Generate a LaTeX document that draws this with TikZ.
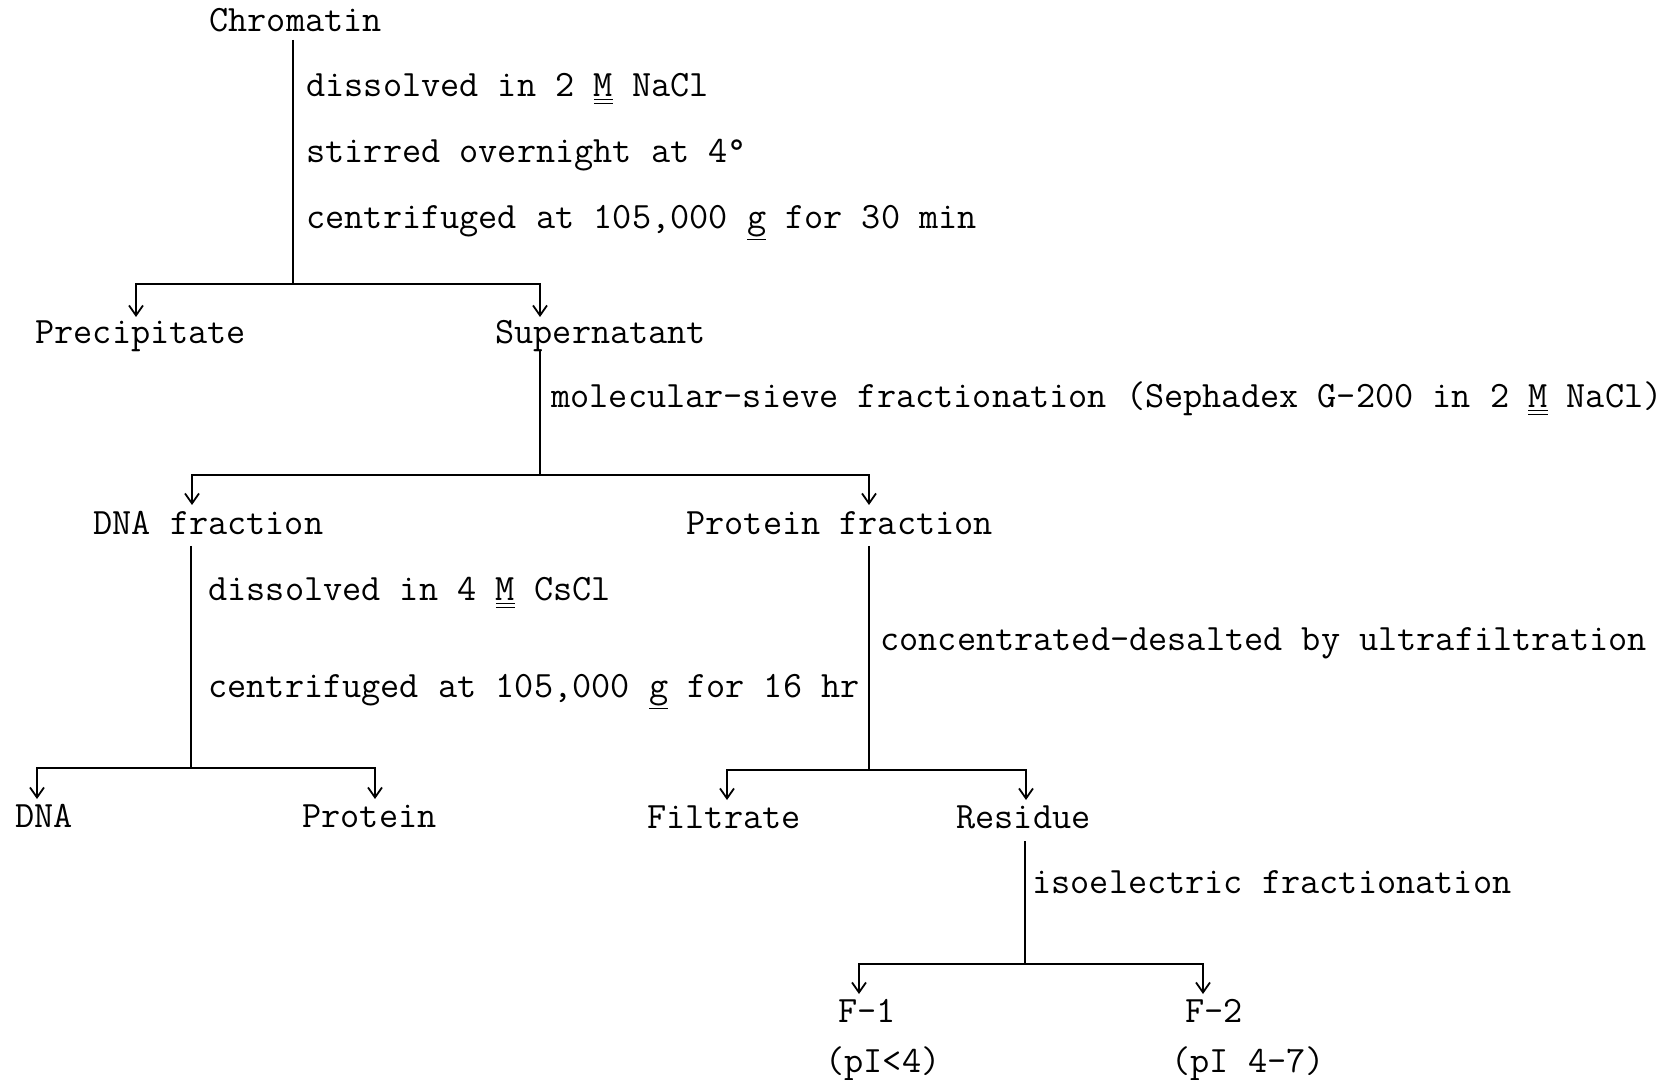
\documentclass[tikz,border=0pt]{standalone}
\usepackage{fontspec}
\usetikzlibrary{arrows.meta}
\newcommand{\dblM}{\underline{\underline{M}}}
\newcommand{\ulg}{\underline{g}}
\begin{document}
\begin{tikzpicture}[x=0.5pt,y=-0.5pt,
  lbl/.style={anchor=west, inner sep=0pt, font=\ttfamily\fontsize{18.6}{21}\selectfont, text height=0.62em, text depth=0.2em},
  ln/.style={line width=0.9pt},
  arr/.style={ln, -{Straight Barb[length=5pt,width=7pt]}}]
\useasboundingbox (0,0) rectangle (1672,1080);
% texts
\node[lbl] (chrom) at (209,27) {Chromatin};
\node[lbl] (s1a) at (306,92) {dissolved in 2 \dblM{} NaCl};
\node[lbl] (s1b) at (306,158) {stirred overnight at 4\textdegree};
\node[lbl] (s1c) at (306,224) {centrifuged at 105,000 \ulg{} for 30 min};
\node[lbl] (prec) at (35,339) {Precipitate};
\node[lbl] (super) at (495,339) {Supernatant};
\node[lbl] (s2) at (551,403) {molecular-sieve fractionation (Sephadex G-200 in 2 \dblM{} NaCl)};
\node[lbl] (dnaf) at (93,530) {DNA fraction};
\node[lbl] (protf) at (686,530) {Protein fraction};
\node[lbl] (s3a) at (208,596) {dissolved in 4 \dblM{} CsCl};
\node[lbl] (s3b) at (208,693) {centrifuged at 105,000 \ulg{} for 16 hr};
\node[lbl] (s4) at (880,646) {concentrated-desalted by ultrafiltration};
\node[lbl] (dna) at (15,823) {DNA};
\node[lbl] (prot) at (302,823) {Protein};
\node[lbl] (filt) at (647,824) {Filtrate};
\node[lbl] (resid) at (956,824) {Residue};
\node[lbl] (s5) at (1032,889) {isoelectric fractionation};
\node[lbl] (f1) at (838,1018) {F-1};
\node[lbl] (f2) at (1185,1018) {F-2};
\node[lbl] (pi1) at (825,1068) {(pI<4)};
\node[lbl] (pi2) at (1171,1068) {(pI 4-7)};
% coordinates
\coordinate (c1t) at (293,40);
\coordinate (c1b) at (293,284);
\coordinate (c1l) at (136,284);
\coordinate (c1r) at (540,284);
\coordinate (tprec) at (136,317);
\coordinate (tsup) at (540,317);
\coordinate (c2t) at (540,350);
\coordinate (c2b) at (540,475);
\coordinate (c2l) at (192,475);
\coordinate (c2r) at (869,475);
\coordinate (tdnaf) at (192,505);
\coordinate (tprotf) at (869,505);
\coordinate (c3t) at (191,546);
\coordinate (c3b) at (191,768);
\coordinate (c3l) at (37,768);
\coordinate (c3r) at (375,768);
\coordinate (tdna) at (37,799);
\coordinate (tprot) at (375,799);
\coordinate (c4t) at (869,546);
\coordinate (c4b) at (869,770);
\coordinate (c4l) at (727,770);
\coordinate (c4r) at (1026,770);
\coordinate (tfilt) at (727,800);
\coordinate (tres) at (1026,800);
\coordinate (c5t) at (1025,841);
\coordinate (c5b) at (1025,964);
\coordinate (c5l) at (859,964);
\coordinate (c5r) at (1203,964);
\coordinate (tf1) at (859,994);
\coordinate (tf2) at (1203,994);
% connectors
\draw[ln] (c1t) -- (c1b);
\draw[arr] (c1b) -- (c1l) -- (tprec);
\draw[arr] (c1b) -- (c1r) -- (tsup);
\draw[ln] (c2t) -- (c2b);
\draw[arr] (c2b) -- (c2l) -- (tdnaf);
\draw[arr] (c2b) -- (c2r) -- (tprotf);
\draw[ln] (c3t) -- (c3b);
\draw[arr] (c3b) -- (c3l) -- (tdna);
\draw[arr] (c3b) -- (c3r) -- (tprot);
\draw[ln] (c4t) -- (c4b);
\draw[arr] (c4b) -- (c4l) -- (tfilt);
\draw[arr] (c4b) -- (c4r) -- (tres);
\draw[ln] (c5t) -- (c5b);
\draw[arr] (c5b) -- (c5l) -- (tf1);
\draw[arr] (c5b) -- (c5r) -- (tf2);
\end{tikzpicture}
\end{document}
